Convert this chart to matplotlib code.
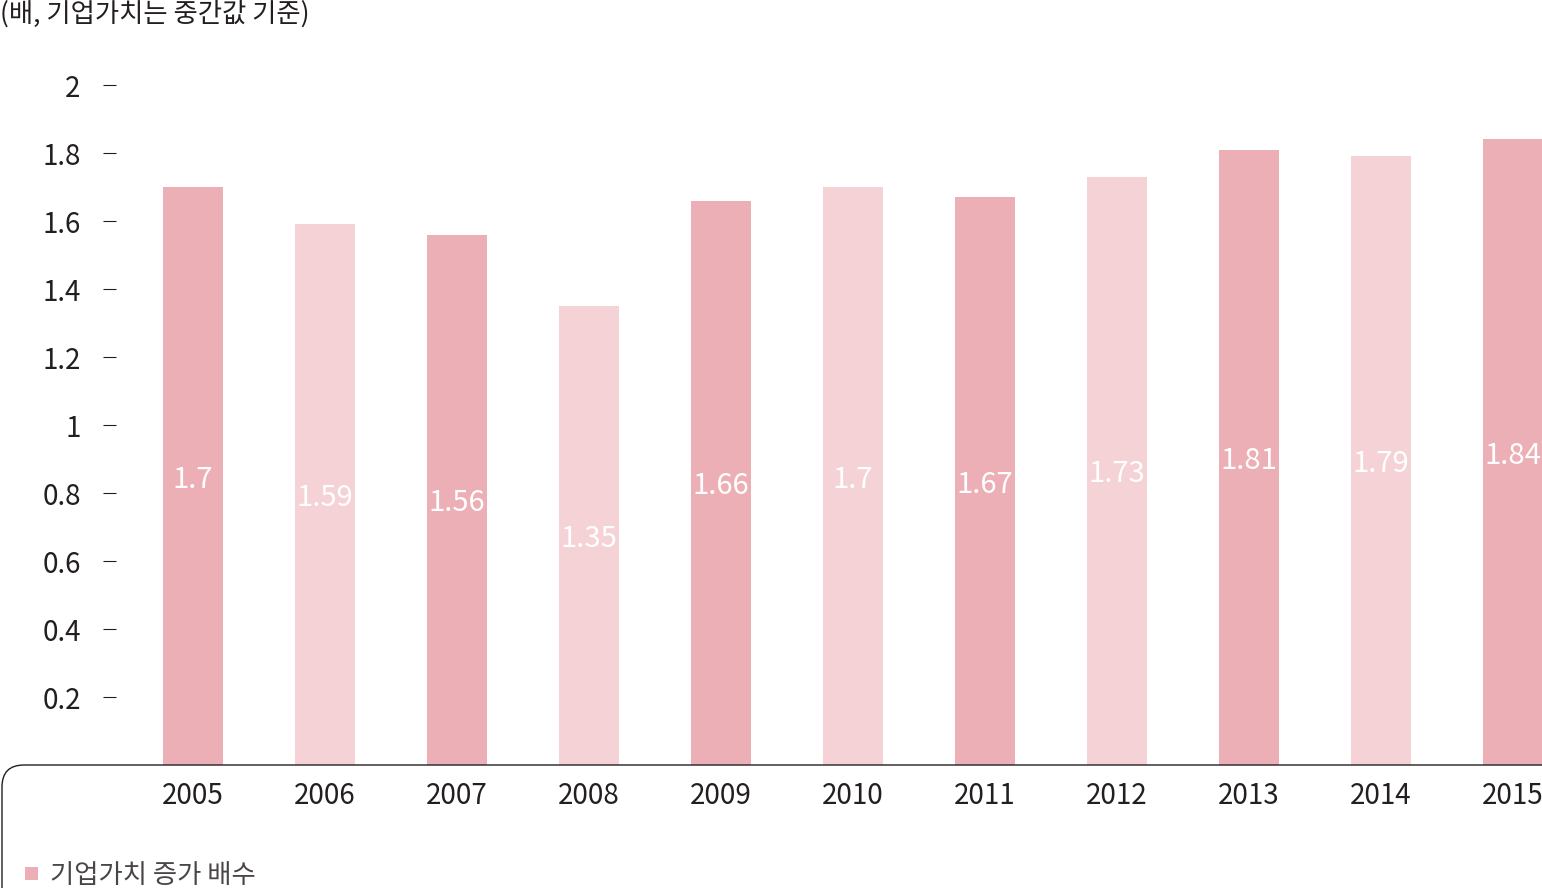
import matplotlib
matplotlib.use("Agg")
import matplotlib.pyplot as plt
from matplotlib.path import Path
from matplotlib.patches import PathPatch, Rectangle

plt.rcParams['font.family'] = ['Noto Sans CJK KR', 'DejaVu Sans']

years = ['2005', '2006', '2007', '2008', '2009', '2010', '2011', '2012', '2013', '2014', '2015']
values = [1.7, 1.59, 1.56, 1.35, 1.66, 1.7, 1.67, 1.73, 1.81, 1.79, 1.84]
yticks = [0.2, 0.4, 0.6, 0.8, 1, 1.2, 1.4, 1.6, 1.8, 2]
ytick_labels = ['0.2', '0.4', '0.6', '0.8', '1', '1.2', '1.4', '1.6', '1.8', '2']
title = '(배, 기업가치는 중간값 기준)'
legend_label = '기업가치 증가 배수'

dark = '#EDAFB6'
light = '#F5D2D6'
text_col = '#231F20'

W, H = 1542, 888
fig = plt.figure(figsize=(W / 100, H / 100), dpi=100)

def fx(px):
    return px / W

def fy(py):
    return 1 - py / H

ax_left, ax_right = 116, 1542
ax_top, ax_bottom = 52, 765
ax = fig.add_axes([fx(ax_left), fy(ax_bottom), fx(ax_right - ax_left), (ax_bottom - ax_top) / H])

x = list(range(len(years)))
colors = [dark if i % 2 == 0 else light for i in x]
bars = ax.bar(x, values, width=0.447, color=colors, linewidth=0)
for xi, v in zip(x, values):
    ax.text(xi, v / 2, f'{v:g}', ha='center', va='center_baseline', color='white', fontsize=21)

ax.set_xlim((116 - 193) / 132, (1542 - 193) / 132)
ax.set_ylim(0, (ax_bottom - ax_top) / 340)
ax.set_xticks(x)
ax.set_xticklabels(years)
ax.set_yticks(yticks)
ax.set_yticklabels(ytick_labels)
for s in ['top', 'right', 'left', 'bottom']:
    ax.spines[s].set_visible(False)
ax.tick_params(axis='x', length=0, pad=11.5, labelsize=20, labelcolor=text_col)
ax.tick_params(axis='y', length=9.4, width=0.8, color=text_col, pad=16, labelsize=20, labelcolor=text_col, direction='out')

# rounded box line
verts = [(fx(2), fy(900)), (fx(2), fy(787)), (fx(2), fy(765)), (fx(24), fy(765)), (fx(1545), fy(765))]
codes = [Path.MOVETO, Path.LINETO, Path.CURVE3, Path.CURVE3, Path.LINETO]
fig.patches.append(PathPatch(Path(verts, codes), transform=fig.transFigure, fill=False,
                             edgecolor=text_col, linewidth=1.0, clip_on=False))

fig.text(fx(0), fy(14), title, ha='left', va='center', fontsize=19, color=text_col)

fig.patches.append(Rectangle((fx(25), fy(880)), fx(13), 13 / H, transform=fig.transFigure,
                             facecolor=dark, edgecolor='none'))
fig.text(fx(50), fy(875), legend_label, ha='left', va='center', fontsize=19, color='#4a4546')

fig.savefig('out.png', dpi=100)
